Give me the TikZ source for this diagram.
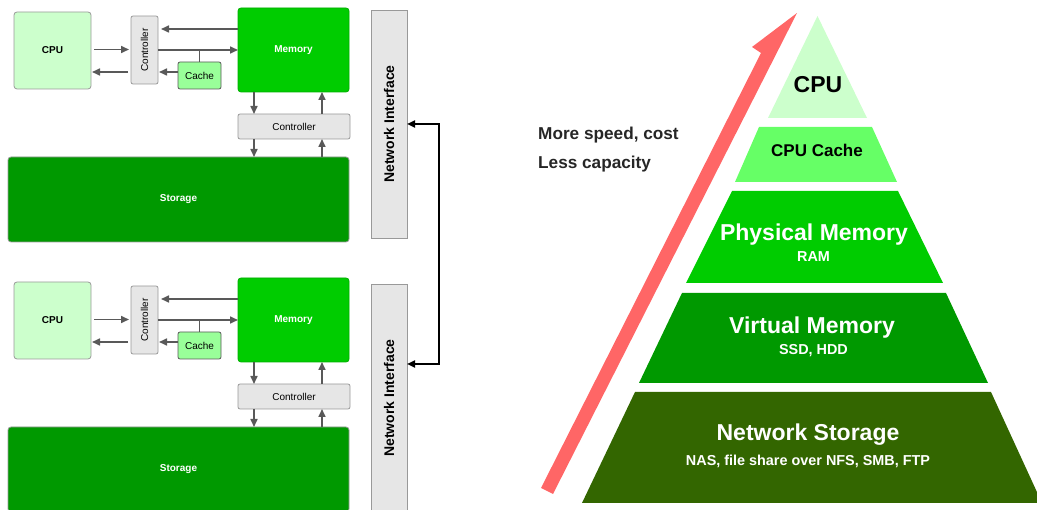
\documentclass[tikz,border=0pt]{standalone}
\usepackage{fontspec}
\setmainfont{Liberation Sans}
\usetikzlibrary{arrows.meta}
\definecolor{cpuL}{HTML}{CCFFCC}
\definecolor{cacheL}{HTML}{99FF99}
\definecolor{memG}{HTML}{00CC00}
\definecolor{stoG}{HTML}{009900}
\definecolor{ctrlG}{HTML}{E6E6E6}
\definecolor{edgeG}{HTML}{999999}
\definecolor{arrG}{HTML}{595959}
\definecolor{pCacheC}{HTML}{66FF66}
\definecolor{pNetC}{HTML}{336600}
\definecolor{redA}{HTML}{FF6666}
\begin{document}
\begin{tikzpicture}[x=1pt,y=-1pt,
  blk/.style={draw=edgeG, line width=0.8pt, rounded corners=3pt, inner sep=0pt, outer sep=0pt,
    font=\fontsize{10}{12}\selectfont},
  cpubox/.style={blk, fill=cpuL, font=\fontsize{10}{12}\selectfont\bfseries},
  ctrlbox/.style={blk, fill=ctrlG, rounded corners=2pt},
  cachebox/.style={blk, fill=cacheL, draw=arrG, rounded corners=2pt},
  membox/.style={blk, fill=memG, draw=memG!85!black, text=white, font=\fontsize{10}{12}\selectfont\bfseries},
  stobox/.style={blk, fill=stoG, text=white, font=\fontsize{10}{12}\selectfont\bfseries},
  nibox/.style={draw=edgeG, line width=0.8pt, fill=ctrlG, inner sep=0pt, outer sep=0pt,
    font=\fontsize{14}{16}\selectfont\bfseries},
  garrow/.style={draw=arrG, line width=1.6pt, -{Triangle[length=8pt,width=7pt]}},
  gline/.style={draw=arrG, line width=1.6pt},
  netarrow/.style={draw=black, line width=2pt, {Triangle[length=8pt,width=7pt]}-{Triangle[length=8pt,width=7pt]}},
  bigt/.style={font=\fontsize{23}{26}\selectfont\bfseries, inner sep=0pt, anchor=base},
  smallt/.style={font=\fontsize{14.4}{17}\selectfont\bfseries, inner sep=0pt, anchor=base, text=white},
  sidet/.style={font=\fontsize{17.2}{20}\selectfont\bfseries, inner sep=0pt, anchor=base west, text=black!85}
]
\useasboundingbox (0,0) rectangle (1037,510);
\clip (0,0) rectangle (1037,510);

% ---------- two computer blocks ----------
\foreach \s/\dy in {a/0,b/270}{
  \begin{scope}[yshift=-\dy pt]
    \node[cpubox, minimum width=77pt, minimum height=77pt] (cpu\s) at (52.5,50.5) {CPU};
    \node[ctrlbox, minimum width=27pt, minimum height=68pt] (ctrl\s) at (144.5,50) {\rotatebox{90}{Controller}};
    \node[cachebox, minimum width=43pt, minimum height=27pt] (cache\s) at (199.5,75.5) {Cache};
    \node[membox, minimum width=111pt, minimum height=84pt] (mem\s) at (293.5,50) {Memory};
    \node[ctrlbox, minimum width=112pt, minimum height=25pt] (ctrlB\s) at (294,126.5) {Controller};
    \node[stobox, minimum width=341pt, minimum height=85pt] (sto\s) at (178.5,199.5) {Storage};
    % connectors
    \draw[garrow] ([yshift=21pt]mem\s.west) -- ([yshift=21pt,xshift=3pt]ctrl\s.east);
    \draw[garrow] (ctrl\s.east) -- (mem\s.west);
    \draw[gline] (cache\s.north) -- (cache\s.north |- ctrl\s.east);
    \draw[garrow] ([yshift=1pt,xshift=3pt]cpu\s.east) -- ([yshift=0.5pt,xshift=-2pt]ctrl\s.west);
    \draw[garrow] ([yshift=-22pt,xshift=-3pt]ctrl\s.west) -- ([yshift=-21.5pt,xshift=1pt]cpu\s.east);
    \draw[garrow] ([yshift=3.5pt]cache\s.west) -- ([yshift=-22pt,xshift=1pt]ctrl\s.east);
    \draw[garrow] ([xshift=-39.5pt]mem\s.south) -- ([xshift=-40pt]ctrlB\s.north);
    \draw[garrow] ([xshift=28pt]ctrlB\s.north) -- ([xshift=28.5pt]mem\s.south);
    \draw[garrow] ([xshift=-40pt]ctrlB\s.south) -- ([xshift=75.5pt]sto\s.north);
    \draw[garrow] ([xshift=143.5pt]sto\s.north) -- ([xshift=28pt]ctrlB\s.south);
  \end{scope}
}

% ---------- network interfaces ----------
\node[nibox, minimum width=36pt, minimum height=228pt] (nia) at (389,124) {\rotatebox{90}{Network Interface}};
\node[nibox, minimum width=36pt, minimum height=228pt] (nib) at (389,398) {\rotatebox{90}{Network Interface}};
\draw[netarrow] (nia.east) -- ++(32,0) |- ([yshift=34pt]nib.east);

% ---------- pyramid ----------
\fill[cpuL] (817.5,16) -- (867,118) -- (768,118) -- cycle;
\fill[pCacheC] (759,127) -- (872,127) -- (897,182) -- (735,182) -- cycle;
\fill[memG] (732,191) -- (898,191) -- (943,283) -- (686,283) -- cycle;
\fill[stoG] (682,293) -- (946,293) -- (988,383) -- (639,383) -- cycle;
\fill[pNetC] (635,392) -- (991,392) -- (1042,503) -- (582,503) -- cycle;

\node[bigt, text=black] (tcpu) at (818,92.7) {CPU};
\node[font=\fontsize{17}{20}\selectfont\bfseries, inner sep=0pt, anchor=base, text=black] (tcache) at (817,156.7) {CPU Cache};
\node[bigt, text=white] (tphys) at (814,240.7) {Physical Memory};
\node[smallt] (tram) at (813.5,262) {RAM};
\node[bigt, text=white] (tvirt) at (812,334) {Virtual Memory};
\node[smallt] (tssd) at (813.5,355) {SSD, HDD};
\node[bigt, text=white] (tnet) at (808,440.7) {Network Storage};
\node[smallt] (tnas) at (808,465.7) {NAS, file share over NFS, SMB, FTP};

% ---------- red arrow ----------
\fill[redA] (797,13) -- (752,47) -- (761,53) -- (541,488) -- (553,494) -- cycle;

\node[sidet] (tmore) at (538,140) {More speed, cost};
\node[sidet] (tless) at (538,169) {Less capacity};
\end{tikzpicture}
\end{document}
